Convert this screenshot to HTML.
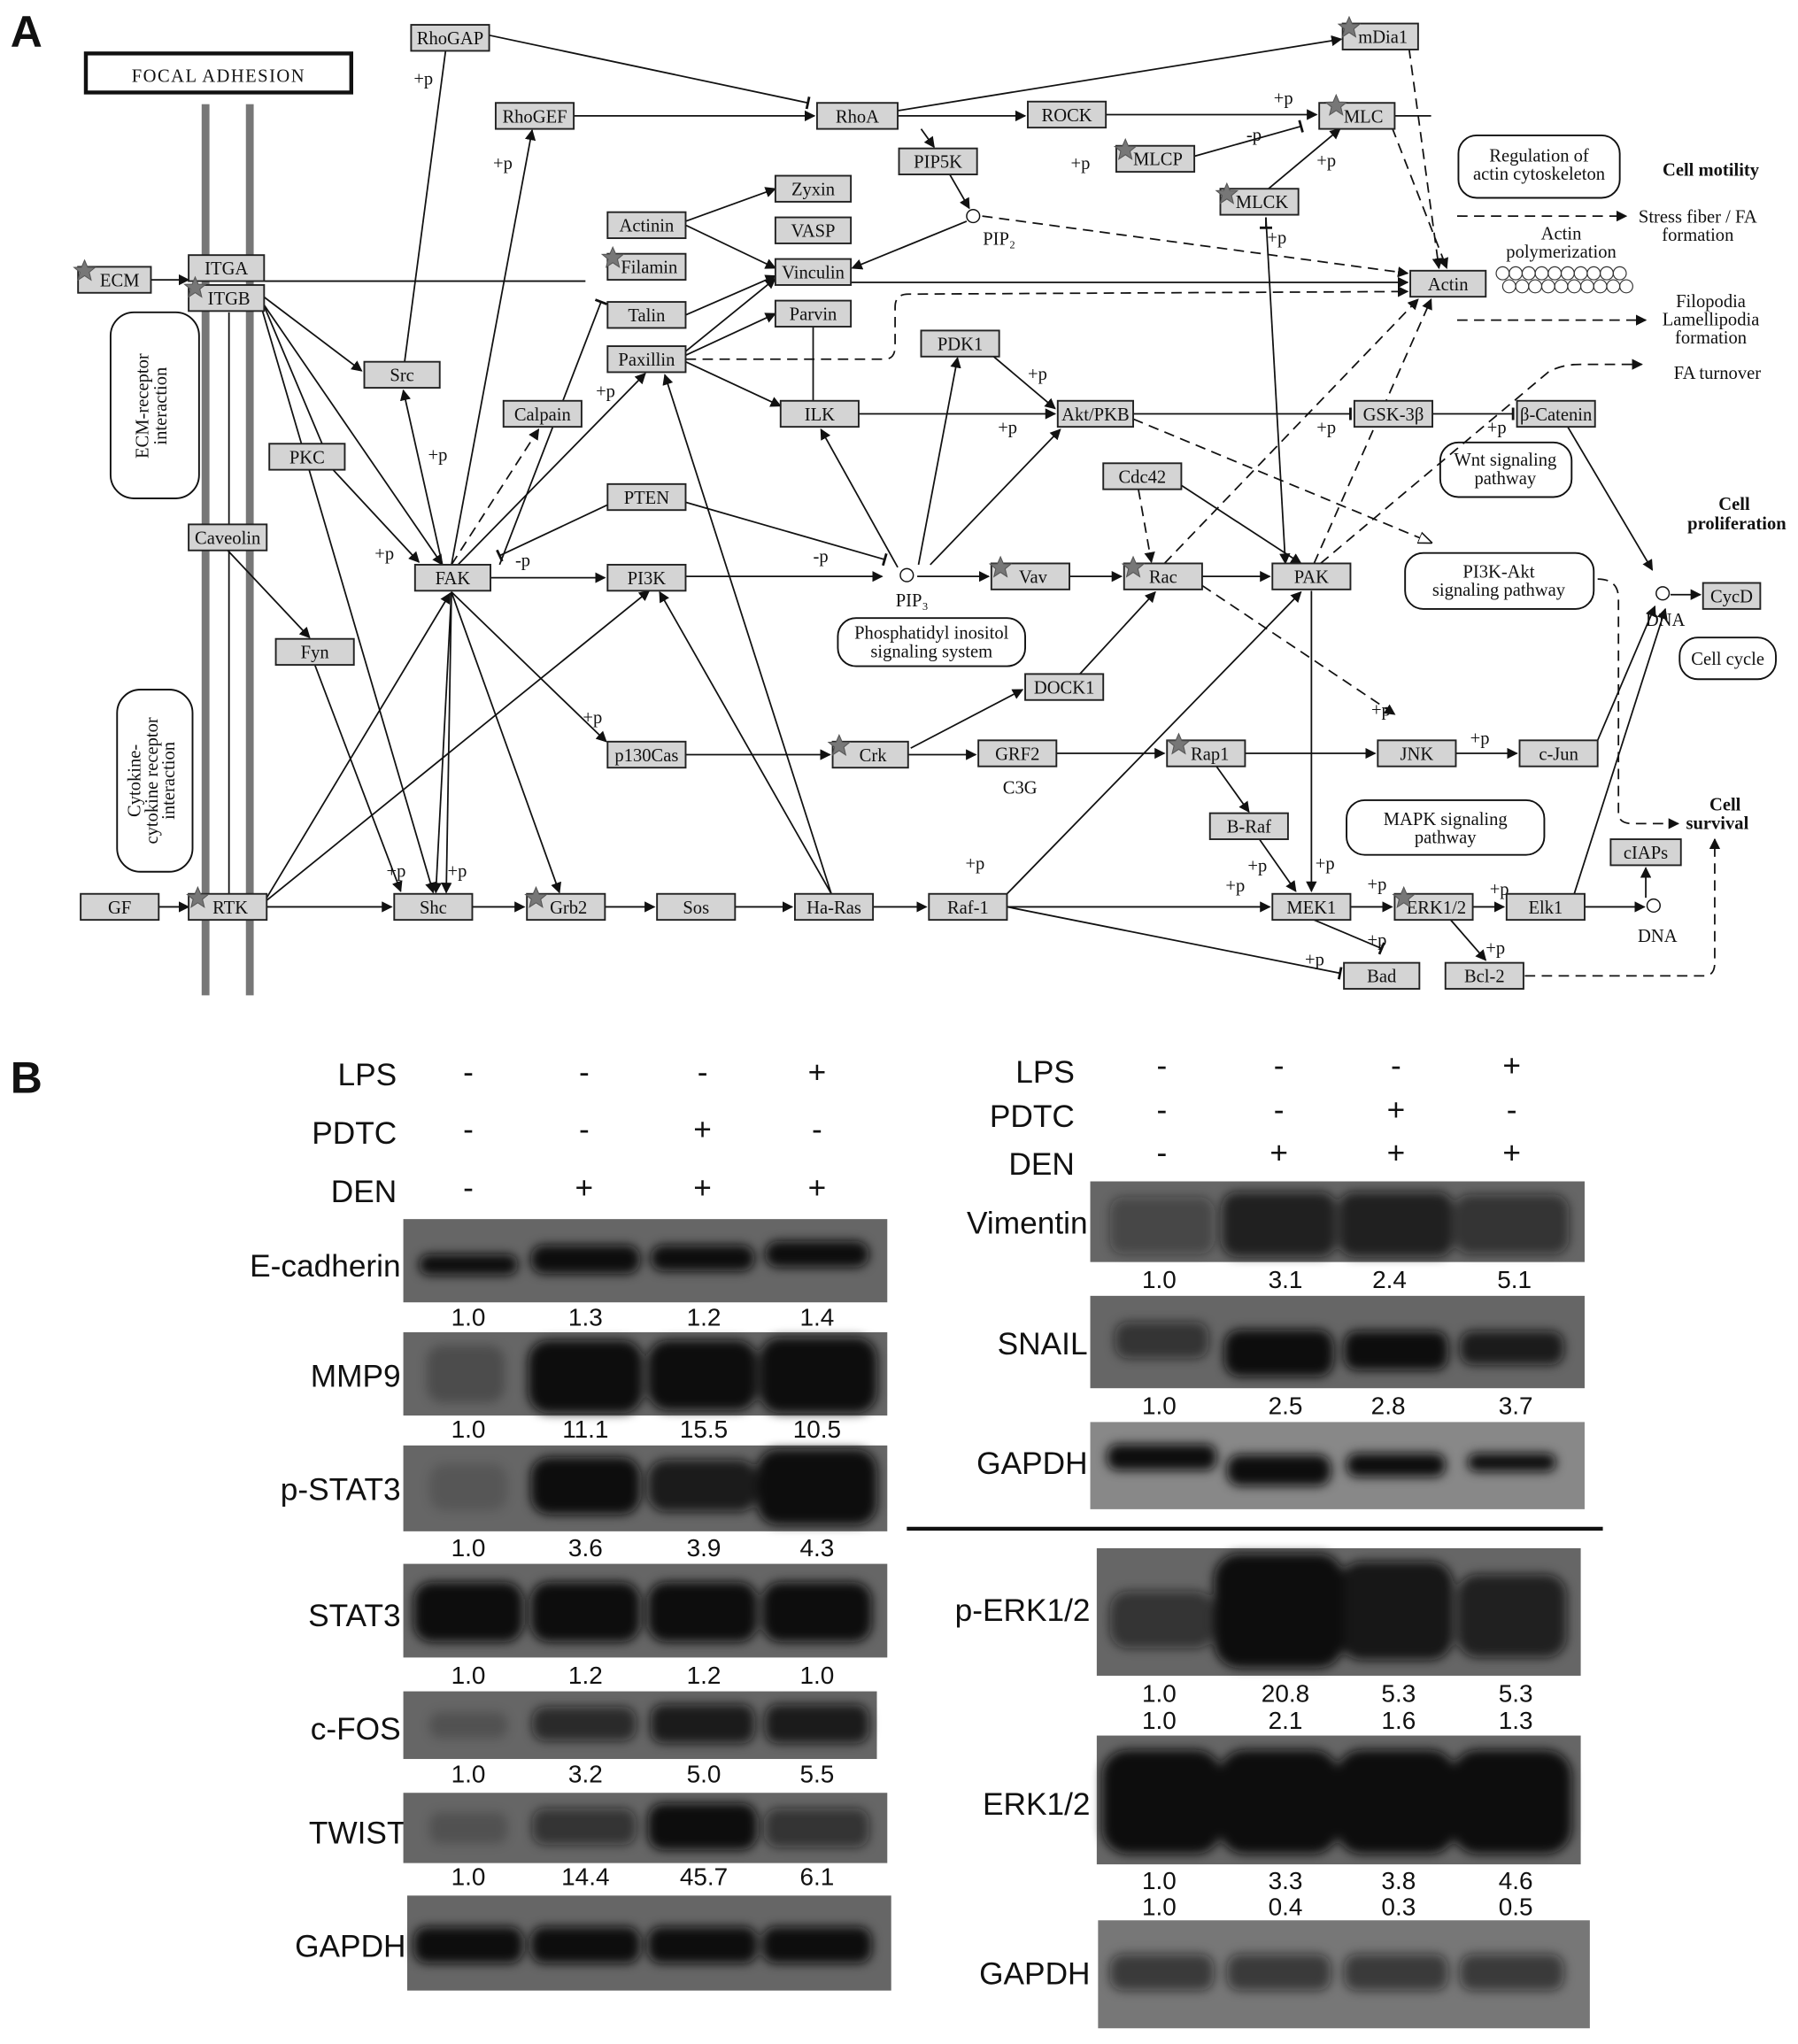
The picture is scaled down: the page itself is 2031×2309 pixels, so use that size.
<!DOCTYPE html>
<html><head><meta charset="utf-8"><style>
html,body{margin:0;padding:0;background:#fff}
svg{display:block}
.n rect{fill:#d4d4d4;stroke:#222;stroke-width:1.3}
.n text,.t{font-family:"Liberation Serif",serif;font-size:14px;fill:#111}
.e{stroke:#111;stroke-width:1.2;fill:none}
.d{stroke:#111;stroke-width:1.2;fill:none;stroke-dasharray:8 5}
.rb{fill:#fff;stroke:#111;stroke-width:1.3}
.s{font-family:"Liberation Sans",sans-serif;fill:#111}
.gl{font-family:"Liberation Sans",sans-serif;font-size:24px;fill:#111}
.nm{font-family:"Liberation Sans",sans-serif;font-size:19px;fill:#111}
</style></head><body>
<svg width="2031" height="2309" viewBox="0 0 1382 1571" xmlns="http://www.w3.org/2000/svg">
<defs>
<marker id="a" viewBox="0 0 10 10" refX="9" refY="5" markerWidth="7" markerHeight="7" orient="auto"><path d="M0,0L10,5L0,10z" fill="#111"/></marker>
<marker id="b" viewBox="0 0 10 10" refX="5" refY="5" markerWidth="8" markerHeight="8" orient="auto"><path d="M5,0V10" stroke="#111" stroke-width="2"/></marker>
<marker id="o" viewBox="0 0 10 10" refX="9" refY="5" markerWidth="9" markerHeight="9" orient="auto"><path d="M0,1L10,5L0,9z" fill="#fff" stroke="#111"/></marker>
<filter id="bl" x="-30%" y="-60%" width="160%" height="220%"><feGaussianBlur stdDeviation="4"/></filter>
<symbol id="st" viewBox="-10 -10 20 20"><path d="M0,-9L2.6,-3L9,-2.8L4,1.3L5.6,8L0,4.3L-5.6,8L-4,1.3L-9,-2.8L-2.6,-3z" fill="#777" stroke="#555" stroke-width="0.8"/></symbol>
</defs>
<text x="8" y="36" class="s" font-size="34" font-weight="bold">A</text>
<text x="8" y="840" class="s" font-size="34" font-weight="bold">B</text>
<rect x="66" y="41" width="204" height="30" fill="#fff" stroke="#111" stroke-width="3"/>
<text x="168" y="63" class="t" text-anchor="middle" font-size="16" letter-spacing="1">FOCAL ADHESION</text>
<rect x="155" y="80" width="6" height="685" fill="#777"/>
<rect x="189" y="80" width="6" height="685" fill="#777"/>
<line x1="176" y1="240" x2="176" y2="403" class="e"/><line x1="176" y1="423" x2="176" y2="687" class="e"/>
<rect x="85" y="240" width="68" height="143" rx="18" class="rb"/>
<text transform="translate(114,312) rotate(-90)" class="t" text-anchor="middle" font-size="13">ECM-receptor</text>
<text transform="translate(128,312) rotate(-90)" class="t" text-anchor="middle" font-size="13">interaction</text>
<rect x="90" y="530" width="58" height="140" rx="18" class="rb"/>
<text transform="translate(108,600) rotate(-90)" class="t" text-anchor="middle" font-size="12">Cytokine-</text>
<text transform="translate(121,600) rotate(-90)" class="t" text-anchor="middle" font-size="12">cytokine receptor</text>
<text transform="translate(134,600) rotate(-90)" class="t" text-anchor="middle" font-size="12">interaction</text>
<rect x="1121" y="104" width="124" height="48" rx="14" class="rb"/>
<text x="1183" y="124" class="t" text-anchor="middle" font-size="13">Regulation of</text>
<text x="1183" y="138" class="t" text-anchor="middle" font-size="13">actin cytoskeleton</text>
<rect x="1107" y="340" width="101" height="42" rx="14" class="rb"/>
<text x="1157" y="358" class="t" text-anchor="middle" font-size="13">Wnt signaling</text>
<text x="1157" y="372" class="t" text-anchor="middle" font-size="13">pathway</text>
<rect x="1080" y="425" width="145" height="43" rx="14" class="rb"/>
<text x="1152" y="444" class="t" text-anchor="middle" font-size="13">PI3K-Akt</text>
<text x="1152" y="458" class="t" text-anchor="middle" font-size="13">signaling pathway</text>
<rect x="644" y="475" width="144" height="37" rx="14" class="rb"/>
<text x="716" y="491" class="t" text-anchor="middle" font-size="13">Phosphatidyl inositol</text>
<text x="716" y="505" class="t" text-anchor="middle" font-size="13">signaling system</text>
<rect x="1035" y="615" width="152" height="42" rx="14" class="rb"/>
<text x="1111" y="634" class="t" text-anchor="middle" font-size="13">MAPK signaling</text>
<text x="1111" y="648" class="t" text-anchor="middle" font-size="13">pathway</text>
<rect x="1291" y="490" width="74" height="32" rx="14" class="rb"/>
<text x="1328" y="511" class="t" text-anchor="middle" font-size="13">Cell cycle</text>
<text x="1315" y="135" class="t" text-anchor="middle" font-size="13" font-weight="bold">Cell motility</text>
<text x="1305" y="171" class="t" text-anchor="middle" font-size="13">Stress fiber / FA</text>
<text x="1305" y="185" class="t" text-anchor="middle" font-size="13">formation</text>
<text x="1200" y="184" class="t" text-anchor="middle" font-size="13">Actin</text>
<text x="1200" y="198" class="t" text-anchor="middle" font-size="13">polymerization</text>
<g fill="none" stroke="#333" stroke-width="0.8">
<circle cx="1155" cy="210" r="5"/><circle cx="1165" cy="210" r="5"/><circle cx="1175" cy="210" r="5"/><circle cx="1185" cy="210" r="5"/><circle cx="1195" cy="210" r="5"/><circle cx="1205" cy="210" r="5"/><circle cx="1215" cy="210" r="5"/><circle cx="1225" cy="210" r="5"/><circle cx="1235" cy="210" r="5"/><circle cx="1245" cy="210" r="5"/>
<circle cx="1160" cy="220" r="5"/><circle cx="1170" cy="220" r="5"/><circle cx="1180" cy="220" r="5"/><circle cx="1190" cy="220" r="5"/><circle cx="1200" cy="220" r="5"/><circle cx="1210" cy="220" r="5"/><circle cx="1220" cy="220" r="5"/><circle cx="1230" cy="220" r="5"/><circle cx="1240" cy="220" r="5"/><circle cx="1250" cy="220" r="5"/></g>
<text x="1315" y="236" class="t" text-anchor="middle" font-size="13">Filopodia</text>
<text x="1315" y="250" class="t" text-anchor="middle" font-size="13">Lamellipodia</text>
<text x="1315" y="264" class="t" text-anchor="middle" font-size="13">formation</text>
<text x="1320" y="291" class="t" text-anchor="middle" font-size="13">FA turnover</text>
<text x="1333" y="392" class="t" text-anchor="middle" font-size="13" font-weight="bold">Cell</text>
<text x="1335" y="407" class="t" text-anchor="middle" font-size="13" font-weight="bold">proliferation</text>
<text x="1326" y="623" class="t" text-anchor="middle" font-size="13" font-weight="bold">Cell</text>
<text x="1320" y="637" class="t" text-anchor="middle" font-size="13" font-weight="bold">survival</text>
<circle cx="1278" cy="456" r="5" fill="#fff" stroke="#111"/><text x="1280" y="481" class="t" text-anchor="middle">DNA</text>
<circle cx="1271" cy="696" r="5" fill="#fff" stroke="#111"/><text x="1274" y="724" class="t" text-anchor="middle">DNA</text>
<circle cx="748" cy="166" r="5" fill="#fff" stroke="#111"/><text x="768" y="188" class="t" text-anchor="middle" font-size="13">PIP₂</text>
<circle cx="697" cy="442" r="5" fill="#fff" stroke="#111"/><text x="701" y="466" class="t" text-anchor="middle" font-size="13">PIP₃</text>
<text x="784" y="610" class="t" text-anchor="middle" font-size="13">C3G</text>

<g class="e">
<line x1="195" y1="216" x2="450" y2="216"/>
<line x1="625" y1="251" x2="625" y2="308"/>
<line x1="256" y1="361" x2="200" y2="228"/>
<line x1="1072" y1="89" x2="1100" y2="89"/>
</g>
<g class="e" marker-end="url(#a)">
<line x1="116" y1="215" x2="145" y2="215"/>
<line x1="120" y1="697" x2="145" y2="697"/>
<line x1="376" y1="27" x2="621" y2="79" marker-end="url(#b)"/>
<line x1="441" y1="89" x2="626" y2="89"/>
<line x1="690" y1="85" x2="1031" y2="30"/>
<line x1="690" y1="89" x2="788" y2="89"/>
<line x1="850" y1="88" x2="1012" y2="88"/>
<line x1="918" y1="120" x2="1000" y2="97" marker-end="url(#b)"/>
<line x1="975" y1="145" x2="1030" y2="99"/>
<line x1="708" y1="99" x2="718" y2="113"/>
<line x1="730" y1="134" x2="745" y2="160"/>
<line x1="743" y1="170" x2="655" y2="206"/>
<line x1="527" y1="170" x2="596" y2="145"/>
<line x1="527" y1="173" x2="596" y2="206"/>
<line x1="527" y1="242" x2="596" y2="212"/>
<line x1="527" y1="270" x2="596" y2="214"/>
<line x1="527" y1="273" x2="596" y2="241"/>
<line x1="527" y1="278" x2="600" y2="312"/>
<line x1="654" y1="217" x2="1082" y2="217"/>
<line x1="660" y1="318" x2="811" y2="318"/>
<line x1="759" y1="270" x2="811" y2="314"/>
<line x1="706" y1="434" x2="736" y2="275"/>
<line x1="715" y1="434" x2="815" y2="330"/>
<line x1="690" y1="436" x2="631" y2="330"/>
<line x1="871" y1="318" x2="1038" y2="318" marker-end="url(#b)"/>
<line x1="1101" y1="318" x2="1163" y2="318" marker-end="url(#b)"/>
<line x1="1205" y1="328" x2="1270" y2="438"/>
<line x1="1284" y1="457" x2="1307" y2="457"/>
<line x1="200" y1="226" x2="278" y2="285"/>
<line x1="200" y1="230" x2="340" y2="434"/>
<line x1="256" y1="361" x2="322" y2="432"/>
<line x1="200" y1="233" x2="333" y2="686"/>
<line x1="340" y1="434" x2="310" y2="300"/>
<line x1="311" y1="278" x2="345" y2="20"/>
<line x1="347" y1="434" x2="409" y2="100"/>
<line x1="352" y1="434" x2="496" y2="287"/>
<line x1="384" y1="434" x2="462" y2="232" marker-end="url(#b)"/>
<line x1="377" y1="444" x2="465" y2="444"/>
<line x1="467" y1="388" x2="384" y2="427" marker-end="url(#b)"/>
<line x1="527" y1="386" x2="680" y2="430" marker-end="url(#b)"/>
<line x1="527" y1="443" x2="678" y2="443"/>
<line x1="705" y1="443" x2="760" y2="443"/>
<line x1="822" y1="443" x2="862" y2="443"/>
<line x1="924" y1="443" x2="976" y2="443"/>
<line x1="908" y1="373" x2="1000" y2="433"/>
<line x1="175" y1="423" x2="238" y2="490"/>
<line x1="242" y1="511" x2="308" y2="685"/>
<line x1="347" y1="455" x2="466" y2="570"/>
<line x1="347" y1="455" x2="335" y2="686"/>
<line x1="347" y1="455" x2="343" y2="686"/>
<line x1="347" y1="455" x2="430" y2="686"/>
<line x1="205" y1="697" x2="301" y2="697"/>
<line x1="205" y1="690" x2="346" y2="456"/>
<line x1="205" y1="692" x2="499" y2="454"/>
<line x1="363" y1="697" x2="403" y2="697"/>
<line x1="465" y1="697" x2="503" y2="697"/>
<line x1="565" y1="697" x2="609" y2="697"/>
<line x1="671" y1="697" x2="712" y2="697"/>
<line x1="639" y1="687" x2="511" y2="288"/>
<line x1="639" y1="687" x2="507" y2="455"/>
<line x1="774" y1="697" x2="976" y2="697"/>
<line x1="774" y1="697" x2="1030" y2="748" marker-end="url(#b)"/>
<line x1="774" y1="687" x2="1000" y2="455"/>
<line x1="527" y1="580" x2="638" y2="580"/>
<line x1="698" y1="580" x2="750" y2="580"/>
<line x1="700" y1="575" x2="786" y2="530"/>
<line x1="830" y1="518" x2="888" y2="455"/>
<line x1="812" y1="579" x2="895" y2="579"/>
<line x1="957" y1="579" x2="1057" y2="579"/>
<line x1="1119" y1="579" x2="1166" y2="579"/>
<line x1="1228" y1="569" x2="1272" y2="466"/>
<line x1="935" y1="589" x2="960" y2="624"/>
<line x1="968" y1="645" x2="996" y2="685"/>
<line x1="1008" y1="454" x2="1008" y2="685"/>
<line x1="1038" y1="697" x2="1070" y2="697"/>
<line x1="1132" y1="697" x2="1156" y2="697"/>
<line x1="1218" y1="697" x2="1264" y2="697"/>
<line x1="1210" y1="687" x2="1280" y2="468"/>
<line x1="1265" y1="690" x2="1265" y2="667"/>
<line x1="1115" y1="707" x2="1142" y2="738"/>
<line x1="1010" y1="707" x2="1062" y2="729" marker-end="url(#b)"/>
<line x1="973" y1="167" x2="988" y2="433"/>
<line x1="973" y1="167" x2="973" y2="175" marker-end="url(#b)"/>
</g>
<g class="d" marker-end="url(#a)">
<path d="M1083,37 L1106,206"/><path d="M1070,98 L1112,206"/>
<path d="M755,166 L1082,210"/>
<path d="M527,276 L680,276 Q688,276 688,266 L688,236 Q688,226 698,226 L1082,224"/>
<path d="M347,434 L414,330"/>
<path d="M875,376 L885,432"/>
<path d="M1010,433 L1100,230"/>
<path d="M895,433 L1090,230"/>
<path d="M871,322 L1100,417" marker-end="url(#o)"/>
<path d="M1015,433 L1190,286 Q1200,280 1215,280 L1262,280"/>
<path d="M924,450 L1072,549"/>
<path d="M1120,166 L1250,166"/><path d="M1120,246 L1265,246"/>
<path d="M1228,445 Q1244,445 1244,460 L1244,625 Q1244,633 1255,633 L1290,633"/>
<path d="M1172,750 L1310,750 Q1318,750 1318,740 L1318,645"/>
</g>
<g class="t" font-size="14">
<text x="318" y="65">+p</text><text x="379" y="130">+p</text><text x="329" y="354">+p</text><text x="288" y="430">+p</text>
<text x="458" y="305">+p</text><text x="448" y="556">+p</text><text x="297" y="674">+p</text><text x="344" y="674">+p</text>
<text x="396" y="435">-p</text><text x="625" y="432">-p</text><text x="767" y="333">+p</text><text x="790" y="292">+p</text>
<text x="1012" y="333">+p</text><text x="1143" y="333">+p</text><text x="979" y="80">+p</text><text x="958" y="108">-p</text>
<text x="1012" y="128">+p</text><text x="823" y="130">+p</text><text x="974" y="187">+p</text>
<text x="1054" y="550">+p</text><text x="1130" y="572">+p</text><text x="742" y="668">+p</text>
<text x="942" y="685">+p</text><text x="959" y="670">+p</text><text x="1011" y="668">+p</text><text x="1051" y="684">+p</text>
<text x="1145" y="688">+p</text><text x="1051" y="727">+p</text><text x="1003" y="742">+p</text><text x="1142" y="733">+p</text>
</g>
<g class="n">
<rect x="316" y="19" width="60" height="20"/><text x="346" y="34" text-anchor="middle">RhoGAP</text>
<rect x="1032" y="18" width="58" height="20"/><text x="1063" y="33" text-anchor="middle">mDia1</text>
<rect x="381" y="79" width="60" height="20"/><text x="411" y="94" text-anchor="middle">RhoGEF</text>
<rect x="628" y="79" width="62" height="20"/><text x="659" y="94" text-anchor="middle">RhoA</text>
<rect x="790" y="78" width="60" height="20"/><text x="820" y="93" text-anchor="middle">ROCK</text>
<rect x="1014" y="79" width="58" height="20"/><text x="1048" y="94" text-anchor="middle">MLC</text>
<rect x="691" y="114" width="60" height="20"/><text x="721" y="129" text-anchor="middle">PIP5K</text>
<rect x="858" y="112" width="60" height="20"/><text x="890" y="127" text-anchor="middle">MLCP</text>
<rect x="938" y="145" width="60" height="20"/><text x="970" y="160" text-anchor="middle">MLCK</text>
<rect x="596" y="135" width="58" height="20"/><text x="625" y="150" text-anchor="middle">Zyxin</text>
<rect x="467" y="163" width="60" height="20"/><text x="497" y="178" text-anchor="middle">Actinin</text>
<rect x="596" y="167" width="58" height="20"/><text x="625" y="182" text-anchor="middle">VASP</text>
<rect x="467" y="195" width="60" height="20"/><text x="499" y="210" text-anchor="middle">Filamin</text>
<rect x="596" y="199" width="58" height="20"/><text x="625" y="214" text-anchor="middle">Vinculin</text>
<rect x="60" y="205" width="56" height="20"/><text x="92" y="220" text-anchor="middle">ECM</text>
<rect x="145" y="196" width="58" height="20"/><text x="174" y="211" text-anchor="middle">ITGA</text>
<rect x="145" y="219" width="58" height="20"/><text x="176" y="234" text-anchor="middle">ITGB</text>
<rect x="1084" y="208" width="58" height="20"/><text x="1113" y="223" text-anchor="middle">Actin</text>
<rect x="467" y="232" width="60" height="20"/><text x="497" y="247" text-anchor="middle">Talin</text>
<rect x="596" y="231" width="58" height="20"/><text x="625" y="246" text-anchor="middle">Parvin</text>
<rect x="708" y="254" width="60" height="20"/><text x="738" y="269" text-anchor="middle">PDK1</text>
<rect x="280" y="278" width="58" height="20"/><text x="309" y="293" text-anchor="middle">Src</text>
<rect x="467" y="266" width="60" height="20"/><text x="497" y="281" text-anchor="middle">Paxillin</text>
<rect x="387" y="308" width="60" height="20"/><text x="417" y="323" text-anchor="middle">Calpain</text>
<rect x="600" y="308" width="60" height="20"/><text x="630" y="323" text-anchor="middle">ILK</text>
<rect x="813" y="308" width="58" height="20"/><text x="842" y="323" text-anchor="middle">Akt/PKB</text>
<rect x="1041" y="308" width="60" height="20"/><text x="1071" y="323" text-anchor="middle">GSK-3β</text>
<rect x="1166" y="308" width="60" height="20"/><text x="1196" y="323" text-anchor="middle">β-Catenin</text>
<rect x="207" y="341" width="58" height="20"/><text x="236" y="356" text-anchor="middle">PKC</text>
<rect x="848" y="356" width="60" height="20"/><text x="878" y="371" text-anchor="middle">Cdc42</text>
<rect x="467" y="372" width="60" height="20"/><text x="497" y="387" text-anchor="middle">PTEN</text>
<rect x="145" y="403" width="60" height="20"/><text x="175" y="418" text-anchor="middle">Caveolin</text>
<rect x="319" y="434" width="58" height="20"/><text x="348" y="449" text-anchor="middle">FAK</text>
<rect x="467" y="434" width="60" height="20"/><text x="497" y="449" text-anchor="middle">PI3K</text>
<rect x="762" y="433" width="60" height="20"/><text x="794" y="448" text-anchor="middle">Vav</text>
<rect x="864" y="433" width="60" height="20"/><text x="894" y="448" text-anchor="middle">Rac</text>
<rect x="978" y="433" width="60" height="20"/><text x="1008" y="448" text-anchor="middle">PAK</text>
<rect x="1309" y="448" width="44" height="20"/><text x="1331" y="463" text-anchor="middle">CycD</text>
<rect x="212" y="491" width="60" height="20"/><text x="242" y="506" text-anchor="middle">Fyn</text>
<rect x="788" y="518" width="60" height="20"/><text x="818" y="533" text-anchor="middle">DOCK1</text>
<rect x="467" y="570" width="60" height="20"/><text x="497" y="585" text-anchor="middle">p130Cas</text>
<rect x="640" y="570" width="58" height="20"/><text x="671" y="585" text-anchor="middle">Crk</text>
<rect x="752" y="569" width="60" height="20"/><text x="782" y="584" text-anchor="middle">GRF2</text>
<rect x="897" y="569" width="60" height="20"/><text x="930" y="584" text-anchor="middle">Rap1</text>
<rect x="1059" y="569" width="60" height="20"/><text x="1089" y="584" text-anchor="middle">JNK</text>
<rect x="1168" y="569" width="60" height="20"/><text x="1198" y="584" text-anchor="middle">c-Jun</text>
<rect x="930" y="625" width="60" height="20"/><text x="960" y="640" text-anchor="middle">B-Raf</text>
<rect x="1238" y="645" width="54" height="20"/><text x="1265" y="660" text-anchor="middle">cIAPs</text>
<rect x="62" y="687" width="60" height="20"/><text x="92" y="702" text-anchor="middle">GF</text>
<rect x="145" y="687" width="60" height="20"/><text x="177" y="702" text-anchor="middle">RTK</text>
<rect x="303" y="687" width="60" height="20"/><text x="333" y="702" text-anchor="middle">Shc</text>
<rect x="405" y="687" width="60" height="20"/><text x="437" y="702" text-anchor="middle">Grb2</text>
<rect x="505" y="687" width="60" height="20"/><text x="535" y="702" text-anchor="middle">Sos</text>
<rect x="611" y="687" width="60" height="20"/><text x="641" y="702" text-anchor="middle">Ha-Ras</text>
<rect x="714" y="687" width="60" height="20"/><text x="744" y="702" text-anchor="middle">Raf-1</text>
<rect x="978" y="687" width="60" height="20"/><text x="1008" y="702" text-anchor="middle">MEK1</text>
<rect x="1072" y="687" width="60" height="20"/><text x="1104" y="702" text-anchor="middle">ERK1/2</text>
<rect x="1158" y="687" width="60" height="20"/><text x="1188" y="702" text-anchor="middle">Elk1</text>
<rect x="1033" y="740" width="58" height="20"/><text x="1062" y="755" text-anchor="middle">Bad</text>
<rect x="1111" y="740" width="60" height="20"/><text x="1141" y="755" text-anchor="middle">Bcl-2</text>
</g>
<g>
<use href="#st" x="1028" y="12" width="18" height="18"/><use href="#st" x="1018" y="72" width="18" height="18"/>
<use href="#st" x="856" y="106" width="18" height="18"/><use href="#st" x="934" y="140" width="18" height="18"/>
<use href="#st" x="462" y="189" width="18" height="18"/><use href="#st" x="56" y="199" width="18" height="18"/>
<use href="#st" x="141" y="212" width="18" height="18"/><use href="#st" x="760" y="427" width="18" height="18"/>
<use href="#st" x="862" y="427" width="18" height="18"/><use href="#st" x="636" y="564" width="18" height="18"/>
<use href="#st" x="897" y="563" width="18" height="18"/><use href="#st" x="143" y="681" width="18" height="18"/>
<use href="#st" x="403" y="681" width="18" height="18"/><use href="#st" x="1070" y="681" width="18" height="18"/>
</g>

<g class="gl" text-anchor="end">
<text x="305" y="834">LPS</text><text x="305" y="879">PDTC</text><text x="305" y="924">DEN</text>
<text x="308" y="981">E-cadherin</text><text x="308" y="1066">MMP9</text><text x="308" y="1153">p-STAT3</text>
<text x="308" y="1250">STAT3</text><text x="308" y="1337">c-FOS</text><text x="312" y="1417">TWIST</text><text x="312" y="1504">GAPDH</text>
<text x="826" y="832">LPS</text><text x="826" y="866">PDTC</text><text x="826" y="903">DEN</text>
<text x="836" y="948">Vimentin</text><text x="836" y="1041">SNAIL</text><text x="836" y="1133">GAPDH</text>
<text x="838" y="1246">p-ERK1/2</text><text x="838" y="1395">ERK1/2</text><text x="838" y="1525">GAPDH</text>
</g>
<g class="gl" text-anchor="middle" font-size="26">
<text x="360" y="832">-</text><text x="449" y="832">-</text><text x="540" y="832">-</text><text x="628" y="832">+</text>
<text x="360" y="876">-</text><text x="449" y="876">-</text><text x="540" y="876">+</text><text x="628" y="876">-</text>
<text x="360" y="921">-</text><text x="449" y="921">+</text><text x="540" y="921">+</text><text x="628" y="921">+</text>
<text x="893" y="827">-</text><text x="983" y="827">-</text><text x="1073" y="827">-</text><text x="1162" y="827">+</text>
<text x="893" y="861">-</text><text x="983" y="861">-</text><text x="1073" y="861">+</text><text x="1162" y="861">-</text>
<text x="893" y="894">-</text><text x="983" y="894">+</text><text x="1073" y="894">+</text><text x="1162" y="894">+</text>
</g>
<g fill="#666">
<rect x="310" y="937" width="372" height="64"/><rect x="310" y="1024" width="372" height="64"/>
<rect x="310" y="1111" width="372" height="66"/><rect x="310" y="1202" width="372" height="72"/>
<rect x="310" y="1300" width="364" height="52"/><rect x="310" y="1378" width="372" height="54"/>
<rect x="313" y="1457" width="372" height="73"/>
<rect x="838" y="908" width="380" height="62"/><rect x="838" y="996" width="380" height="71"/>
<rect x="838" y="1093" width="380" height="67" fill="#888"/>
<rect x="843" y="1190" width="372" height="98"/><rect x="843" y="1334" width="372" height="99"/>
<rect x="844" y="1476" width="378" height="83" fill="#777"/>
</g>
<g fill="#111" filter="url(#bl)">
<rect x="322" y="964" width="76" height="16" rx="8"/><rect x="408" y="957" width="84" height="22" rx="10"/><rect x="500" y="957" width="80" height="20" rx="10"/><rect x="588" y="954" width="80" height="20" rx="10"/>
<rect x="328" y="1034" width="60" height="44" rx="12" opacity=".25"/><rect x="406" y="1030" width="88" height="56" rx="16"/><rect x="498" y="1030" width="84" height="54" rx="16"/><rect x="584" y="1028" width="90" height="58" rx="16"/>
<rect x="330" y="1125" width="60" height="36" rx="12" opacity=".15"/><rect x="408" y="1120" width="84" height="44" rx="14"/><rect x="498" y="1122" width="84" height="40" rx="14" opacity=".85"/><rect x="582" y="1114" width="92" height="58" rx="16"/>
<rect x="318" y="1216" width="84" height="46" rx="14"/><rect x="408" y="1216" width="84" height="46" rx="14"/><rect x="498" y="1216" width="84" height="46" rx="14"/><rect x="586" y="1216" width="84" height="46" rx="14"/>
<rect x="330" y="1316" width="60" height="20" rx="8" opacity=".2"/><rect x="409" y="1312" width="80" height="26" rx="10" opacity=".7"/><rect x="500" y="1310" width="80" height="30" rx="10" opacity=".85"/><rect x="588" y="1310" width="80" height="30" rx="10" opacity=".85"/>
<rect x="330" y="1393" width="60" height="24" rx="8" opacity=".2"/><rect x="409" y="1390" width="80" height="28" rx="10" opacity=".6"/><rect x="498" y="1386" width="84" height="36" rx="12"/><rect x="588" y="1390" width="80" height="30" rx="10" opacity=".6"/>
<rect x="318" y="1481" width="84" height="28" rx="10"/><rect x="408" y="1481" width="84" height="28" rx="10"/><rect x="498" y="1481" width="84" height="28" rx="10"/><rect x="586" y="1481" width="84" height="28" rx="10"/>
<rect x="853" y="920" width="80" height="44" rx="10" opacity=".4"/><rect x="939" y="916" width="88" height="50" rx="12" opacity=".8"/><rect x="1029" y="916" width="88" height="50" rx="12" opacity=".8"/><rect x="1118" y="918" width="88" height="46" rx="12" opacity=".6"/>
<rect x="857" y="1016" width="72" height="28" rx="10" opacity=".6"/><rect x="941" y="1022" width="84" height="36" rx="12"/><rect x="1033" y="1023" width="80" height="30" rx="10"/><rect x="1122" y="1023" width="80" height="26" rx="10" opacity=".85"/>
<rect x="851" y="1110" width="84" height="20" rx="8"/><rect x="943" y="1118" width="80" height="24" rx="10"/><rect x="1035" y="1117" width="76" height="18" rx="8"/><rect x="1128" y="1117" width="68" height="14" rx="7"/>
<rect x="853" y="1223" width="80" height="44" rx="14" opacity=".6"/><rect x="933" y="1194" width="100" height="88" rx="20"/><rect x="1029" y="1200" width="88" height="76" rx="18" opacity=".9"/><rect x="1120" y="1210" width="84" height="64" rx="16" opacity=".8"/>
<rect x="847" y="1345" width="92" height="80" rx="20"/><rect x="937" y="1345" width="92" height="80" rx="20"/><rect x="1027" y="1345" width="92" height="80" rx="20"/><rect x="1116" y="1345" width="92" height="80" rx="20"/>
<rect x="853" y="1502" width="80" height="28" rx="10" opacity=".6"/><rect x="943" y="1502" width="80" height="28" rx="10" opacity=".6"/><rect x="1033" y="1502" width="80" height="28" rx="10" opacity=".6"/><rect x="1122" y="1502" width="80" height="28" rx="10" opacity=".6"/>
</g>
<line x1="697" y1="1175" x2="1232" y2="1175" stroke="#111" stroke-width="3"/>
<g class="nm" text-anchor="middle">
<text x="360" y="1019">1.0</text><text x="450" y="1019">1.3</text><text x="541" y="1019">1.2</text><text x="628" y="1019">1.4</text>
<text x="360" y="1105">1.0</text><text x="450" y="1105">11.1</text><text x="541" y="1105">15.5</text><text x="628" y="1105">10.5</text>
<text x="360" y="1196">1.0</text><text x="450" y="1196">3.6</text><text x="541" y="1196">3.9</text><text x="628" y="1196">4.3</text>
<text x="360" y="1294">1.0</text><text x="450" y="1294">1.2</text><text x="541" y="1294">1.2</text><text x="628" y="1294">1.0</text>
<text x="360" y="1370">1.0</text><text x="450" y="1370">3.2</text><text x="541" y="1370">5.0</text><text x="628" y="1370">5.5</text>
<text x="360" y="1449">1.0</text><text x="450" y="1449">14.4</text><text x="541" y="1449">45.7</text><text x="628" y="1449">6.1</text>
<text x="891" y="990">1.0</text><text x="988" y="990">3.1</text><text x="1068" y="990">2.4</text><text x="1164" y="990">5.1</text>
<text x="891" y="1087">1.0</text><text x="988" y="1087">2.5</text><text x="1067" y="1087">2.8</text><text x="1165" y="1087">3.7</text>
<text x="891" y="1308">1.0</text><text x="988" y="1308">20.8</text><text x="1075" y="1308">5.3</text><text x="1165" y="1308">5.3</text>
<text x="891" y="1329">1.0</text><text x="988" y="1329">2.1</text><text x="1075" y="1329">1.6</text><text x="1165" y="1329">1.3</text>
<text x="891" y="1452">1.0</text><text x="988" y="1452">3.3</text><text x="1075" y="1452">3.8</text><text x="1165" y="1452">4.6</text>
<text x="891" y="1472">1.0</text><text x="988" y="1472">0.4</text><text x="1075" y="1472">0.3</text><text x="1165" y="1472">0.5</text>
</g>
</svg>
</body></html>
